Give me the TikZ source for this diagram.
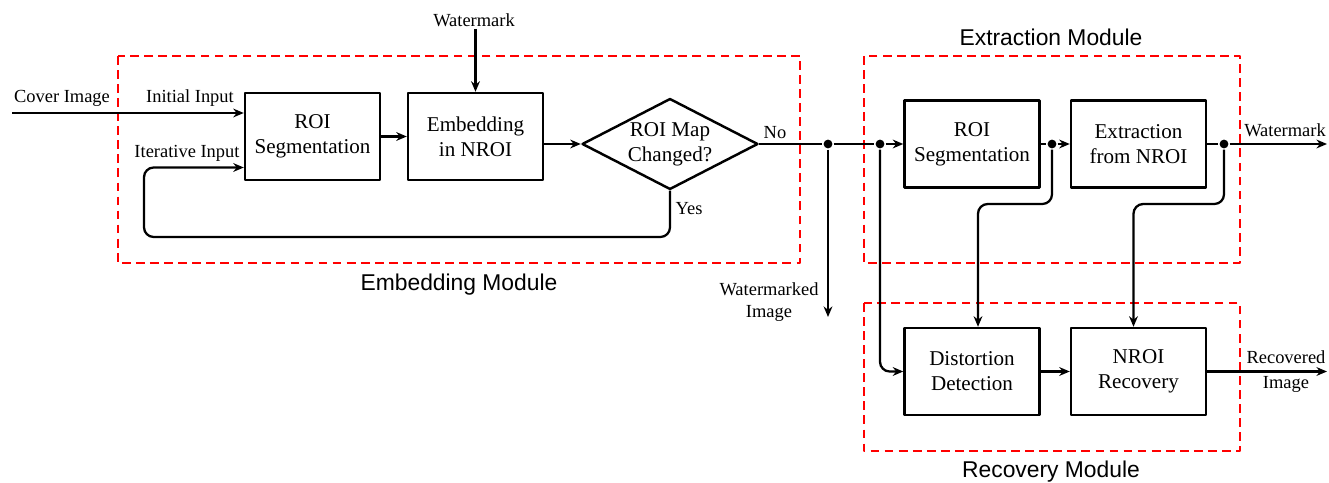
\documentclass[tikz,border=0pt]{standalone}
\usepackage{fontspec}
\setmainfont{Liberation Serif}
\newfontfamily\modfont{Liberation Sans}
\usetikzlibrary{shapes.geometric,arrows.meta,calc}

\tikzset{
 blk/.style={draw,line width=1.4pt,minimum width=2.7cm,minimum height=1.74cm,align=center,font=\fontsize{12}{14.2}\selectfont,inner sep=0pt},
 dec/.style={draw,diamond,line width=1.4pt,minimum width=3.52cm,minimum height=1.82cm,aspect=1.93,align=center,font=\fontsize{12}{14.2}\selectfont,inner sep=0pt},
 lbl/.style={align=center,font=\fontsize{10.5}{12.5}\selectfont,inner sep=0pt},
 modlbl/.style={font=\modfont\fontsize{13}{15}\selectfont,inner sep=0pt},
 modbox/.style={draw=red,line width=0.8pt,dash pattern=on 5pt off 3pt},
 jn/.style={circle,fill,inner sep=0pt,minimum size=5pt},
}

\begin{document}
\begin{tikzpicture}[x=0.02cm,y=-0.02cm,line join=round,line width=1.3pt,>={Stealth[length=6pt,width=5pt]}]
 \useasboundingbox (0,0) rectangle (1329,483);
 % module frames
 \draw[modbox] (118,56) rectangle (800,263);
 \draw[modbox] (864,56) rectangle (1240,263);
 \draw[modbox] (864,303) rectangle (1240,451);
 \node[modlbl] (embmod) at (459,285) {Embedding Module};
 \node[modlbl] (extmod) at (1051,37) {Extraction Module};
 \node[modlbl] (recmod) at (1051,472) {Recovery Module};
 % blocks
 \node[blk] (seg1) at (312.5,136.5) {ROI\\Segmentation};
 \node[blk] (emb) at (475.5,136.5) {Embedding\\in NROI};
 \node[dec] (chg) at (670,144) {ROI Map\\Changed?};
 \node[blk] (seg2) at (972,144) {ROI\\Segmentation};
 \node[blk] (ext) at (1138.5,144) {Extraction\\from NROI};
 \node[blk] (det) at (972,371.5) {Distortion\\Detection};
 \node[blk] (rec) at (1138.5,371.5) {NROI\\Recovery};
 % junctions
 \node[jn] (j1) at (828,144) {};
 \node[jn] (j2) at (880,144) {};
 \node[jn] (j3) at (1052,144) {};
 \node[jn] (j4) at (1224,144) {};
 \coordinate (cin) at (12,113);
 \coordinate (wmin) at ($(emb.north)+(0,-63)$);
 \coordinate (wmdimg) at (828,317);
 \coordinate (wmout) at (1327,144);
 \coordinate (recout) at (1327,371.5);
 \coordinate (loop) at (144,237);
 \coordinate (b3) at (1052,204);
 \coordinate (b4) at (1224,204);
 % labels
 \node[lbl] (tcover) at (62,98) {Cover Image};
 \node[lbl] (tinit) at (190,98) {Initial Input};
 \node[lbl] (titer) at (187,153) {Iterative Input};
 \node[lbl] (twm) at (474,20) {Watermark};
 \node[lbl] (tyes) at (689,209) {Yes};
 \node[lbl] (tno) at (775,133) {No};
 \node[lbl] (twmd) at (769,302) {Watermarked\\Image};
 \node[lbl] (twmo) at (1285,130) {Watermark};
 \node[lbl] (trec) at (1286,371.5) {Recovered\\[2pt]Image};
 % connectors
 \draw[->] (cin) -- (cin -| seg1.west);
 \draw[->] (wmin) -- (emb.north);
 \draw[->] (seg1) -- (emb);
 \draw[->] (emb.east |- chg.west) -- (chg.west);
 \draw[->,rounded corners=5.5pt] (chg.south) |- (loop) |- ($(seg1.west)+(0,31)$);
 \draw (chg.east) -- (j1) -- (j2);
 \draw[->] (j1) -- (wmdimg);
 \draw[->] (j2) -- (seg2);
 \draw[->,rounded corners=5.5pt] (j2) |- (det.west);
 \draw (seg2) -- (j3);
 \draw[->] (j3) -- (ext);
 \draw[->,rounded corners=5.5pt] (j3) -- (b3) -| ($(det.north)+(6,0)$);
 \draw (ext) -- (j4);
 \draw[->] (j4) -- (wmout);
 \draw[->,rounded corners=5.5pt] (j4) -- (b4) -| ($(rec.north)+(-5,0)$);
 \draw[->] (det) -- (rec);
 \draw[->] (rec) -- (recout);
\end{tikzpicture}
\end{document}
